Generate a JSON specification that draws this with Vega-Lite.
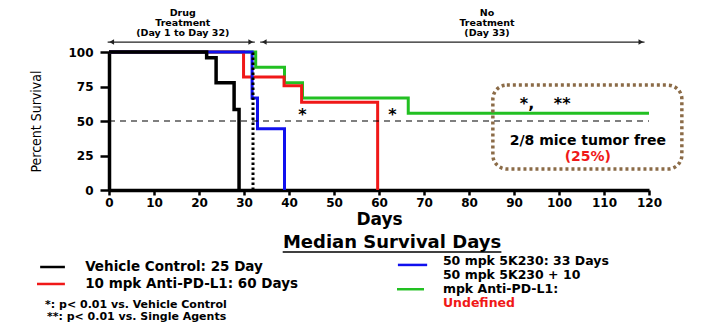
{
  "$schema": "https://vega.github.io/schema/vega-lite/v6.json",
  "width": 540,
  "height": 138,
  "autosize": {"type": "none"},
  "padding": {"left": 109, "top": 52, "right": 52, "bottom": 133},
  "background": "white",
  "config": {"view": {"stroke": null}, "font": "DejaVu Sans"},
  "datasets": {
    "curves": [
      {"g": "Combo", "x": 0, "y": 100}, {"g": "Combo", "x": 32.6, "y": 88.9}, {"g": "Combo", "x": 39, "y": 77.8}, {"g": "Combo", "x": 43, "y": 66.7}, {"g": "Combo", "x": 66.5, "y": 55.6}, {"g": "Combo", "x": 120, "y": 55.6},
      {"g": "Anti-PD-L1", "x": 0, "y": 100}, {"g": "Anti-PD-L1", "x": 29.9, "y": 81.8}, {"g": "Anti-PD-L1", "x": 38.9, "y": 75.6}, {"g": "Anti-PD-L1", "x": 42.8, "y": 63.6}, {"g": "Anti-PD-L1", "x": 59.7, "y": 0},
      {"g": "5K230", "x": 0, "y": 100}, {"g": "5K230", "x": 31.8, "y": 66.7}, {"g": "5K230", "x": 33, "y": 44.4}, {"g": "5K230", "x": 39, "y": 0},
      {"g": "Vehicle", "x": 0, "y": 100}, {"g": "Vehicle", "x": 21.7, "y": 95.8}, {"g": "Vehicle", "x": 23.8, "y": 77.8}, {"g": "Vehicle", "x": 27.8, "y": 58.3}, {"g": "Vehicle", "x": 28.9, "y": 0}
    ],
    "swatches": [
      {"g": "Vehicle", "x": -15.3, "x2": -9.8, "y": -55.8},
      {"g": "Anti-PD-L1", "x": -16, "x2": -9.8, "y": -68.1},
      {"g": "5K230", "x": 64.2, "x2": 70.7, "y": -54.3},
      {"g": "Combo", "x": 64, "x2": 70, "y": -71.9}
    ]
  },
  "encoding": {
    "x": {
      "field": "x", "type": "quantitative",
      "scale": {"domain": [0, 120], "nice": false, "zero": false},
      "axis": {
        "title": "Days", "values": [0, 10, 20, 30, 40, 50, 60, 70, 80, 90, 100, 110, 120],
        "grid": false, "domainColor": "black", "domainWidth": 3.5,
        "tickColor": "black", "tickWidth": 2.5, "tickSize": 5,
        "labelFont": "DejaVu Sans", "labelFontWeight": "bold", "labelFontSize": 12, "labelColor": "black", "labelPadding": 2, "labelFlush": false,
        "titleFont": "DejaVu Sans", "titleFontWeight": "bold", "titleFontSize": 17, "titleColor": "black", "titlePadding": 3
      }
    },
    "y": {
      "field": "y", "type": "quantitative",
      "scale": {"domain": [0, 100], "nice": false},
      "axis": {
        "title": "Percent Survival", "values": [0, 25, 50, 75, 100],
        "grid": false, "domainColor": "black", "domainWidth": 3.5,
        "tickColor": "black", "tickWidth": 2.5, "tickSize": 9,
        "labelFont": "DejaVu Sans", "labelFontWeight": "bold", "labelFontSize": 12, "labelColor": "black", "labelPadding": 7,
        "titleFont": "DejaVu Sans Condensed", "titleFontWeight": "normal", "titleFontSize": 14, "titleColor": "black", "titlePadding": 24
      }
    }
  },
  "layer": [
    {
      "data": {"name": "curves"},
      "transform": [{"filter": "datum.g === 'Combo'"}],
      "mark": {"type": "line", "interpolate": "step-after", "strokeWidth": 3},
      "encoding": {"color": {"field": "g", "type": "nominal", "scale": {"domain": ["Vehicle", "Anti-PD-L1", "5K230", "Combo"], "range": ["#000000", "#f01818", "#1010ee", "#22c022"]}, "legend": null}}
    },
    {
      "data": {"name": "curves"},
      "transform": [{"filter": "datum.g === 'Anti-PD-L1'"}],
      "mark": {"type": "line", "interpolate": "step-after", "strokeWidth": 3},
      "encoding": {"color": {"field": "g", "type": "nominal", "legend": null}}
    },
    {
      "data": {"name": "curves"},
      "transform": [{"filter": "datum.g === '5K230'"}],
      "mark": {"type": "line", "interpolate": "step-after", "strokeWidth": 3},
      "encoding": {"color": {"field": "g", "type": "nominal", "legend": null}}
    },
    {
      "data": {"name": "curves"},
      "transform": [{"filter": "datum.g === 'Vehicle'"}],
      "mark": {"type": "line", "interpolate": "step-after", "strokeWidth": 3.5},
      "encoding": {"color": {"field": "g", "type": "nominal", "legend": null}}
    },
    {
      "data": {"values": [{"x": 32, "y": 0, "y2": 100}]},
      "mark": {"type": "rule", "color": "black", "strokeWidth": 3, "strokeDash": [2.5, 2.5]},
      "encoding": {"y2": {"field": "y2"}}
    },
    {
      "data": {"values": [{"x": 0, "x2": 120, "y": 50}]},
      "mark": {"type": "rule", "color": "black", "strokeWidth": 1.2, "strokeDash": [6, 5]},
      "encoding": {"x2": {"field": "x2"}}
    },
    {
      "data": {"values": [{"x": 85.3, "x2": 127.3, "y": 76, "y2": 15.2}]},
      "mark": {"type": "rect", "fillOpacity": 0, "stroke": "#8b6b47", "strokeWidth": 3.5, "strokeDash": [3, 3], "cornerRadius": 14},
      "encoding": {"x2": {"field": "x2"}, "y2": {"field": "y2"}}
    },
    {
      "data": {"values": [{"x": 43, "y": 54, "t": "*"}, {"x": 63, "y": 54, "t": "*"}, {"x": 92.9, "y": 62, "t": "*,"}, {"x": 100.7, "y": 62, "t": "**"}]},
      "mark": {"type": "text", "font": "DejaVu Sans", "fontWeight": "bold", "fontSize": 16, "color": "black", "align": "center", "baseline": "middle"},
      "encoding": {"text": {"field": "t"}}
    },
    {
      "data": {"values": [{"x": 106.4, "y": 35.7, "t": "2/8 mice tumor free"}]},
      "mark": {"type": "text", "font": "DejaVu Sans", "fontWeight": "bold", "fontSize": 14, "color": "black", "align": "center", "baseline": "middle"},
      "encoding": {"text": {"field": "t"}}
    },
    {
      "data": {"values": [{"x": 106.4, "y": 24, "t": "(25%)"}]},
      "mark": {"type": "text", "font": "DejaVu Sans", "fontWeight": "bold", "fontSize": 14, "color": "#f01818", "align": "center", "baseline": "middle"},
      "encoding": {"text": {"field": "t"}}
    },
    {
      "data": {"values": [
        {"x": 16.4, "y": 127.9, "t": "Drug"}, {"x": 16.4, "y": 121, "t": "Treatment"}, {"x": 16.4, "y": 114.1, "t": "(Day 1 to Day 32)"},
        {"x": 84, "y": 127.9, "t": "No"}, {"x": 84, "y": 121, "t": "Treatment"}, {"x": 84, "y": 114.1, "t": "(Day 33)"}
      ]},
      "mark": {"type": "text", "font": "DejaVu Sans", "fontWeight": "bold", "fontSize": 9.5, "color": "black", "align": "center", "baseline": "middle"},
      "encoding": {"text": {"field": "t"}}
    },
    {
      "data": {"values": [{"x": -0.3, "x2": 32.4, "y": 107.2}, {"x": 33.6, "x2": 119, "y": 107.2}]},
      "mark": {"type": "rule", "color": "#222222", "strokeWidth": 1.2},
      "encoding": {"x2": {"field": "x2"}}
    },
    {
      "data": {"values": [{"x": 0.6, "y": 107.2}, {"x": 34.5, "y": 107.2}]},
      "mark": {"type": "point", "shape": "triangle-left", "filled": true, "color": "#222222", "size": 30, "opacity": 1}
    },
    {
      "data": {"values": [{"x": 31.5, "y": 107.2}, {"x": 118.2, "y": 107.2}]},
      "mark": {"type": "point", "shape": "triangle-right", "filled": true, "color": "#222222", "size": 30, "opacity": 1}
    },
    {
      "data": {"values": [{"x": 62.9, "y": -38.4, "t": "Median Survival Days"}]},
      "mark": {"type": "text", "font": "DejaVu Sans", "fontWeight": "bold", "fontSize": 18, "color": "black", "align": "center", "baseline": "middle"},
      "encoding": {"text": {"field": "t"}}
    },
    {
      "data": {"values": [{"x": 38.6, "x2": 87.2, "y": -45}]},
      "mark": {"type": "rule", "color": "black", "strokeWidth": 1.5},
      "encoding": {"x2": {"field": "x2"}}
    },
    {
      "data": {"name": "swatches"},
      "mark": {"type": "rule", "strokeWidth": 2.5},
      "encoding": {"x2": {"field": "x2"}, "color": {"field": "g", "type": "nominal", "legend": null}}
    },
    {
      "data": {"values": [
        {"x": -5.3, "y": -55.8, "t": "Vehicle Control: 25 Day"},
        {"x": -5.3, "y": -68.1, "t": "10 mpk Anti-PD-L1: 60 Days"}
      ]},
      "mark": {"type": "text", "font": "DejaVu Sans", "fontWeight": "bold", "fontSize": 13.5, "color": "black", "align": "left", "baseline": "middle"},
      "encoding": {"text": {"field": "t"}}
    },
    {
      "data": {"values": [
        {"x": 74.2, "y": -51.6, "t": "50 mpk 5K230: 33 Days"},
        {"x": 74.2, "y": -61.7, "t": "50 mpk 5K230 + 10"},
        {"x": 74.2, "y": -71.9, "t": "mpk Anti-PD-L1:"}
      ]},
      "mark": {"type": "text", "font": "DejaVu Sans", "fontWeight": "bold", "fontSize": 12.5, "color": "black", "align": "left", "baseline": "middle"},
      "encoding": {"text": {"field": "t"}}
    },
    {
      "data": {"values": [{"x": 74.2, "y": -82.1, "t": "Undefined"}]},
      "mark": {"type": "text", "font": "DejaVu Sans", "fontWeight": "bold", "fontSize": 12.5, "color": "#f01818", "align": "left", "baseline": "middle"},
      "encoding": {"text": {"field": "t"}}
    },
    {
      "data": {"values": [
        {"x": -14.2, "y": -83.3, "t": "*: p< 0.01 vs. Vehicle Control"},
        {"x": -13.8, "y": -91.7, "t": "**: p< 0.01 vs. Single Agents"}
      ]},
      "mark": {"type": "text", "font": "DejaVu Sans", "fontWeight": "bold", "fontSize": 11, "color": "black", "align": "left", "baseline": "middle"},
      "encoding": {"text": {"field": "t"}}
    }
  ]
}
